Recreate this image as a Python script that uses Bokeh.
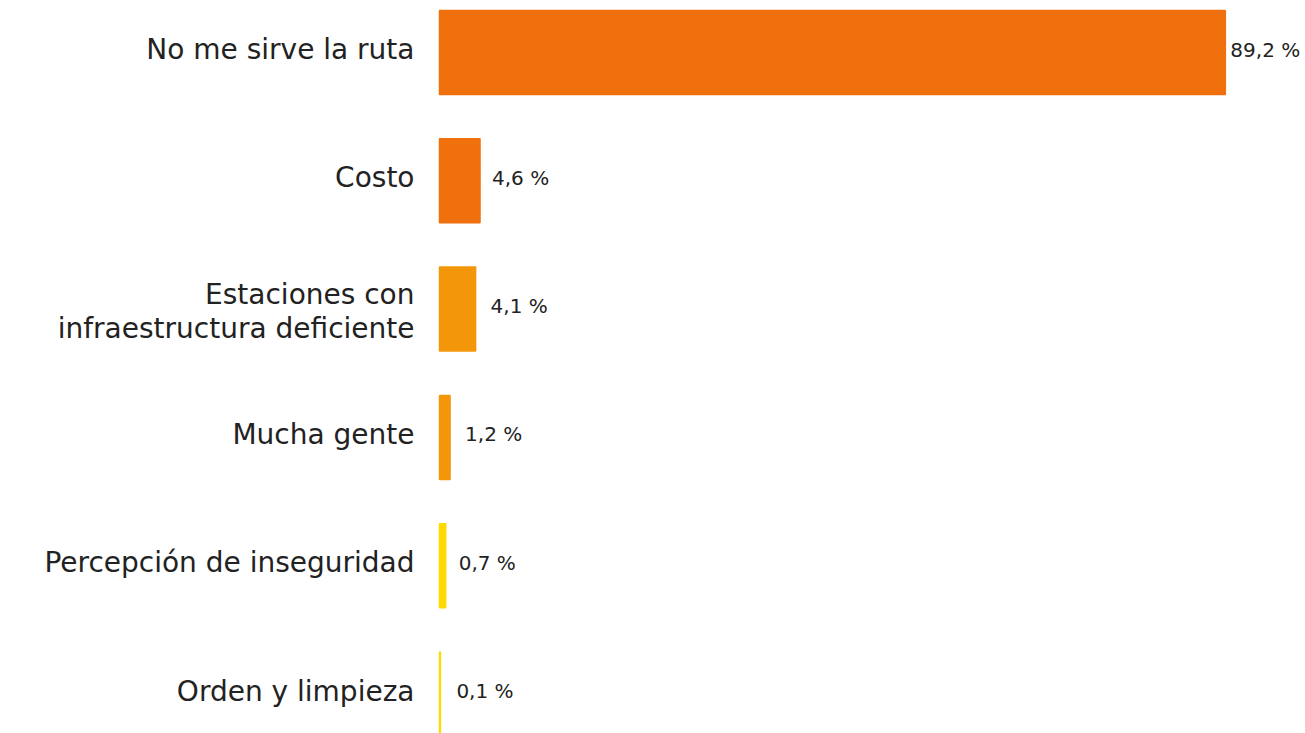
from bokeh.plotting import figure
from bokeh.models import ColumnDataSource, Range1d
from bokeh.core.properties import value
from bokeh.embed import file_html
from bokeh.resources import INLINE

categories = [
    "No me sirve la ruta",
    "Costo",
    "Estaciones con\ninfraestructura deficiente",
    "Mucha gente",
    "Percepción de inseguridad",
    "Orden y limpieza",
]
values = [89.2, 4.6, 4.1, 1.2, 0.7, 0.1]
value_labels = ["89,2 %", "4,6 %", "4,1 %", "1,2 %", "0,7 %", "0,1 %"]
colors = ["#EF700D", "#EF700D", "#F3960A", "#F3960A", "#FFDA00", "#FFDA00"]
label_offsets = [5, 12, 15, 15, 13, 16]
cat_y_offsets = [-3, -3, 2, -3, -3, -3]

n = len(categories)
ypos = [n - 1 - i for i in range(n)]

src = ColumnDataSource(dict(
    y=ypos, v=values, cat=categories, lab=value_labels, color=colors,
    zero=[0] * n, off=label_offsets, cyo=cat_y_offsets,
))

W, H = 1305, 733
px_per_unit = 8.81
left_px = 439
px_per_row = 128.3
top_center = 52

x_start = -left_px / px_per_unit
x_end = (W - left_px) / px_per_unit
y_end = (n - 1) + top_center / px_per_row
y_start = y_end - H / px_per_row

p = figure(width=W, height=H, output_backend="svg", toolbar_location=None,
           x_range=Range1d(x_start, x_end), y_range=Range1d(y_start, y_end),
           x_axis_location=None, y_axis_location=None,
           min_border=0, min_border_left=0, min_border_right=0,
           min_border_top=0, min_border_bottom=0)
p.outline_line_color = None
p.grid.visible = False
p.background_fill_color = "white"
p.border_fill_color = "white"

p.hbar(y="y", left="zero", right="v", height=0.655, fill_color="color",
       line_color="color", line_width=1.5, source=src)

p.text(x="zero", y="y", text="cat", x_offset=-25, y_offset="cyo",
       text_align="right", text_baseline="middle",
       text_font=value("DejaVu Sans"), text_font_size="28px",
       text_color="#222222", text_line_height=1.03, source=src)

p.text(x="v", y="y", text="lab", x_offset="off", y_offset=-3,
       text_align="left", text_baseline="middle",
       text_font=value("DejaVu Sans"), text_font_size="20px",
       text_color="#222222", source=src)

open("out.html", "w").write(file_html(p, INLINE))
